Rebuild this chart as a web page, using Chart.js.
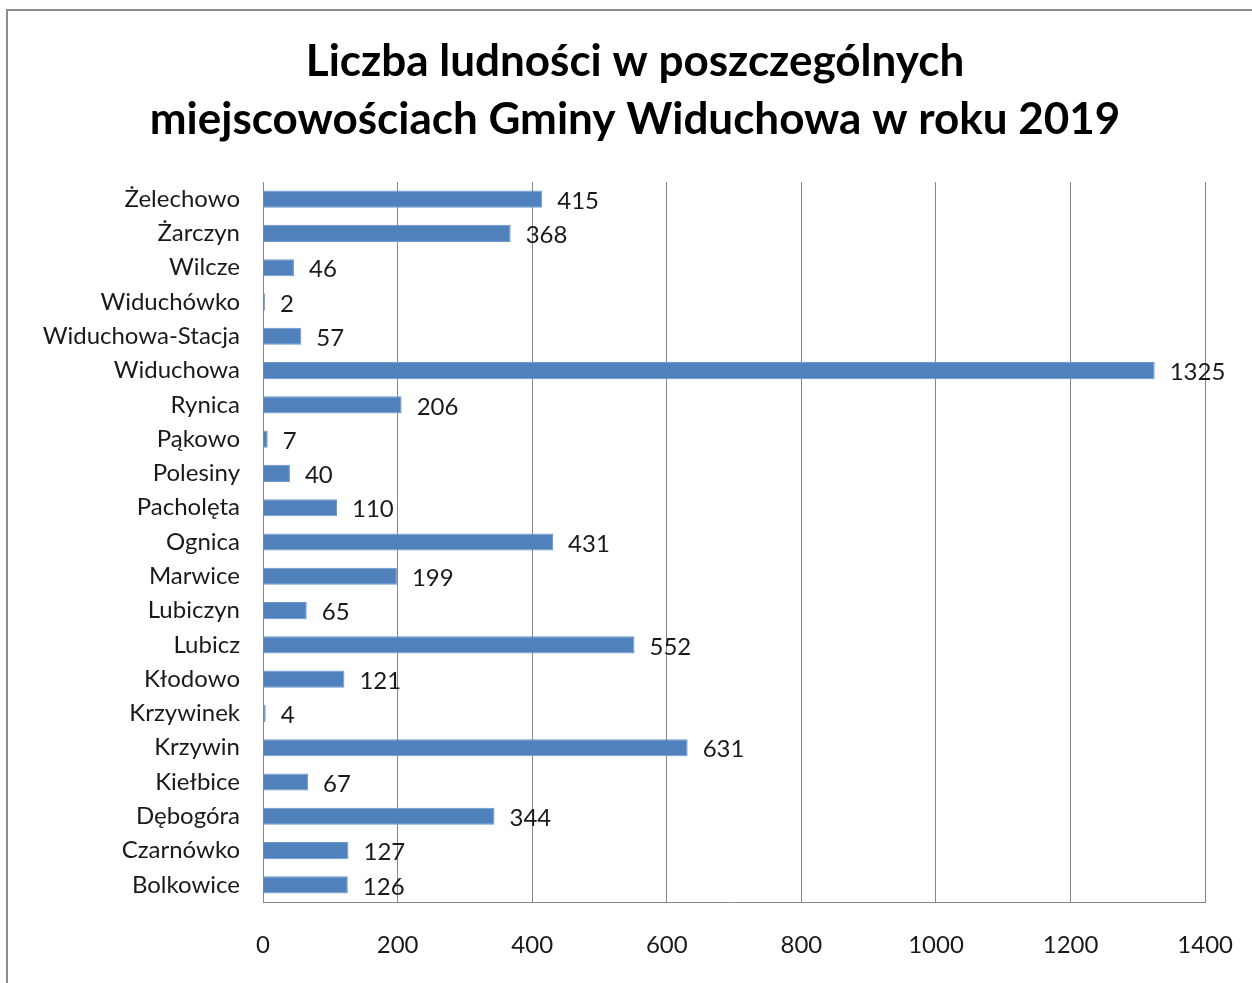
<!DOCTYPE html>
<html>
<head>
<meta charset="utf-8">
<script src="https://cdn.jsdelivr.net/npm/chart.js@4"></script>
<style>
  html, body { margin: 0; padding: 0; background: #fff; overflow: hidden; }
  #frame {
    position: absolute; left: 6px; top: 9px;
    border-left: 2px solid #8c8c8c; border-top: 2px solid #8c8c8c;
    width: 1254px; height: 974px;
  }
  #wrap { position: relative; width: 1254px; height: 972px; }
</style>
</head>
<body>
<div id="frame"><div id="wrap"><canvas id="myChart"></canvas></div></div>
<script>
// miejscowosci, od gory do dolu
var places = ['Żelechowo', 'Żarczyn', 'Wilcze', 'Widuchówko', 'Widuchowa-Stacja', 'Widuchowa',
  'Rynica', 'Pąkowo', 'Polesiny', 'Pacholęta', 'Ognica', 'Marwice', 'Lubiczyn', 'Lubicz',
  'Kłodowo', 'Krzywinek', 'Krzywin', 'Kiełbice', 'Dębogóra', 'Czarnówko', 'Bolkowice']
var people = [415, 368, 46, 2, 57, 1325, 206, 7, 40, 110, 431, 199, 65, 552, 121, 4, 631, 67, 344, 127, 126]
var titleLines = ['Liczba ludności w poszczególnych', 'miejscowościach Gminy Widuchowa w roku 2019']
var xMin = 0, xMax = 1400, xStep = 200

var fontName = 'Lato, "Open Sans", sans-serif'
var gridColor = '#868686'

// liczby obok slupkow
var valueLabels = {
  id: 'valueLabels',
  afterDatasetsDraw: function(chart) {
    var ctx = chart.ctx
    var meta = chart.getDatasetMeta(0)
    ctx.save()
    ctx.font = '24px ' + fontName
    ctx.fillStyle = '#1a1a1a'
    ctx.textAlign = 'left'
    ctx.textBaseline = 'middle'
    meta.data.forEach(function(bar, i) {
      ctx.fillText(String(people[i]), bar.x + 15, bar.y + 2)
    })
    ctx.restore()
  }
}

var ctx = document.getElementById('myChart').getContext('2d')
var chart = new Chart(ctx, {
  type: 'bar',
  data: {
    labels: places,
    datasets: [{
      label: 'Liczba ludności',
      data: people,
      backgroundColor: '#4F81BD',
      borderColor: '#6f97c9',
      borderWidth: 1,
      minBarLength: 2,
      categoryPercentage: 1,
      barPercentage: 0.5
    }]
  },
  options: {
    indexAxis: 'y',
    responsive: true,
    maintainAspectRatio: false,
    animation: false,
    layout: { padding: { left: 0, right: 0, top: 0, bottom: 23 } },
    plugins: {
      legend: { display: false },
      tooltip: { enabled: false },
      title: {
        display: true,
        text: titleLines,
        color: '#000',
        font: { family: fontName, size: 44, weight: 'bold', lineHeight: 58 / 44 },
        padding: { top: 22, bottom: 33 }
      }
    },
    scales: {
      x: {
        min: xMin,
        max: xMax,
        ticks: {
          stepSize: xStep, padding: 29, color: '#1a1a1a', font: { family: fontName, size: 24 },
          callback: function(v) { return String(v) }
        },
        grid: { color: gridColor, drawTicks: false, lineWidth: 1 },
        border: { color: gridColor, width: 1 },
        afterFit: function(scale) { scale.height = 58 }
      },
      y: {
        ticks: { padding: 23, color: '#1a1a1a', font: { family: fontName, size: 24 }, autoSkip: false },
        grid: { display: false, drawTicks: false },
        border: { color: gridColor, width: 1 },
        afterFit: function(scale) { scale.width = 255 }
      },
      // pusta os po prawej, tylko zeby zostawic miejsce
      yRight: {
        type: 'linear',
        position: 'right',
        ticks: { display: false },
        grid: { display: false, drawTicks: false },
        border: { display: false },
        afterFit: function(scale) { scale.width = 56 }
      }
    }
  },
  plugins: [valueLabels]
})
</script>
</body>
</html>
